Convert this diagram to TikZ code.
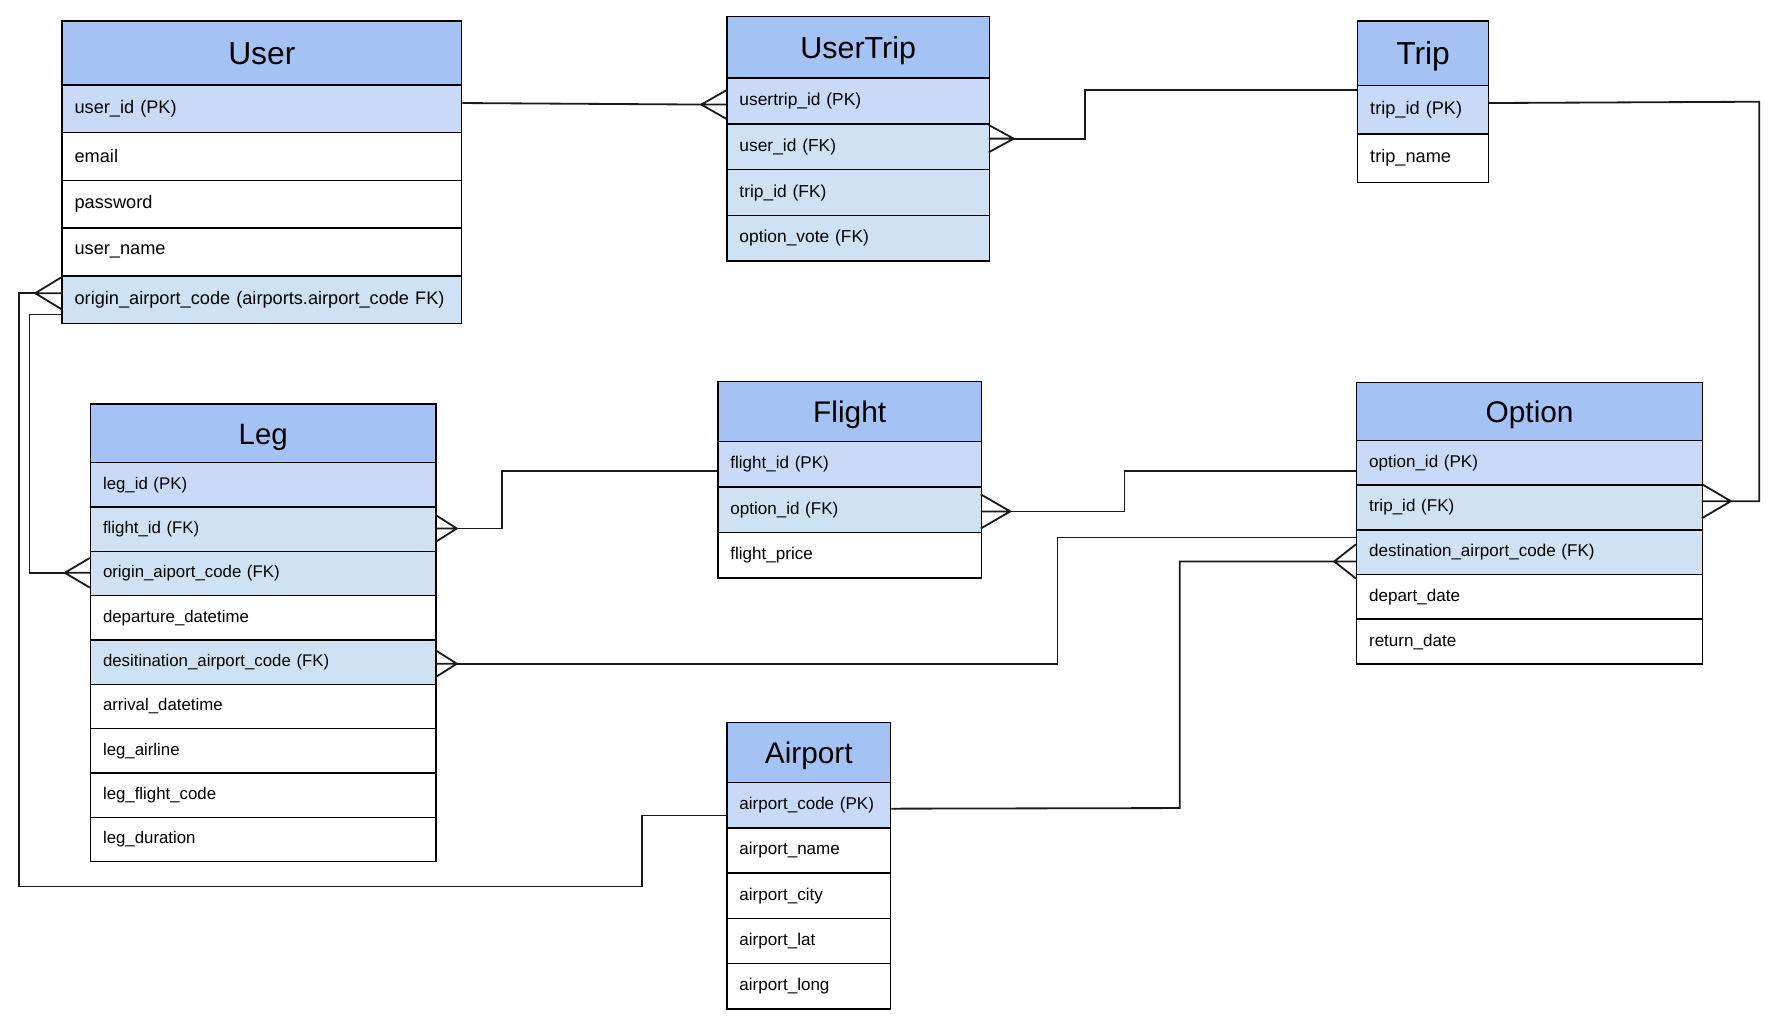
\documentclass[tikz,border=0pt]{standalone}
\usepackage{fontspec}
\setmainfont{Liberation Sans}
\definecolor{titlec}{HTML}{A4C2F4}
\definecolor{pkc}{HTML}{C9DAF8}
\definecolor{fkc}{HTML}{CFE2F3}
\definecolor{linec}{HTML}{1A1A1A}
\tikzset{
  tbl/.style={draw=black, line width=1.3pt, rectangle, inner sep=0pt, anchor=north west},
  ttl/.style={tbl, fill=titlec, align=center},
  fld/.style={tbl, align=left, inner xsep=11pt},
  conn/.style={draw=linec, line width=1.6pt},
}
% #1 name, #2 x, #3 y, #4 width, #5 title height, #6 row height, #7 title, #8 rows, #9 field font size
\newcommand\ertable[9]{%
  \pgfmathsetmacro\ertsz{#9*1.75}%
  \pgfmathsetmacro\ertch{#9*1.75*0.716}%
  \node[ttl, font=\fontsize{\ertsz}{\ertsz}\selectfont, text height=\ertch pt, text depth=0pt,
        minimum width=#4pt, text width=#4pt, minimum height=#5pt] (#1-t) at (#2,#3) {#7};
  \pgfmathsetmacro\ertw{#4-22}%
  \foreach [count=\i] \fc/\tx in {#8} {
    \node[fld, fill=\fc, font=\fontsize{#9}{#9}\selectfont, minimum width=#4pt, text width=\ertw pt, minimum height=#6pt]
      (#1-\i) at (#2,{#3+#5+(\i-1)*#6}) {\tx};
  }%
}
\newcommand\crowfoot[3]{\draw[conn] (#1) -- ++(#2,-#3) (#1) -- ++(#2,0) (#1) -- ++(#2,#3);}
\begin{document}
\begin{tikzpicture}[x=1pt,y=-1pt]
\useasboundingbox (0,0) rectangle (1568,906);

\ertable{User}{54}{18}{351.5}{56}{42}{User}{pkc/user\_id (PK), white/email, white/password, white/user\_name, fkc/origin\_airport\_code (airports.airport\_code FK)}{16}
\ertable{UserTrip}{639}{14}{231}{54}{40.3}{UserTrip}{pkc/usertrip\_id (PK), fkc/user\_id (FK), fkc/trip\_id (FK), fkc/option\_vote (FK)}{15.3}
\ertable{Trip}{1194}{17.7}{115}{57}{42.6}{Trip}{pkc/trip\_id (PK), white/trip\_name}{16}
\ertable{Leg}{79}{355}{304}{51.5}{39}{Leg}{pkc/leg\_id (PK), fkc/flight\_id (FK), fkc/origin\_aiport\_code (FK), white/departure\_datetime, fkc/desitination\_airport\_code (FK), white/arrival\_datetime, white/leg\_airline, white/leg\_flight\_code, white/leg\_duration}{14.8}
\ertable{Flight}{631}{335}{232}{53}{40}{Flight}{pkc/flight\_id (PK), fkc/option\_id (FK), white/flight\_price}{15}
\ertable{Option}{1193}{336}{304.5}{51}{39.3}{Option}{pkc/option\_id (PK), fkc/trip\_id (FK), fkc/destination\_airport\_code (FK), white/depart\_date, white/return\_date}{15}
\ertable{Airport}{639}{635}{144}{53}{39.8}{Airport}{pkc/airport\_code (PK), white/airport\_name, white/airport\_city, white/airport\_lat, white/airport\_long}{15}

% User -> UserTrip
\coordinate (a1) at (617,92);
\draw[conn] ([yshift=5pt]User-1.east) -- (a1);
\crowfoot{a1}{22}{12.5}
% Trip -> UserTrip
\coordinate (a2) at (892,122);
\draw[conn] ([yshift=-3pt]Trip-t.south west) -- ++(-239,0) |- (a2);
\crowfoot{a2}{-22}{12}
% Trip -> Option
\coordinate (a3) at (1523,441);
\draw[conn] ([yshift=6pt]Trip-1.east) -- (1548,89.5) |- (a3);
\crowfoot{a3}{-25.5}{15}
% User origin -> Airport
\coordinate (a4) at (31,258);
\crowfoot{a4}{23}{14}
\draw[conn] (a4) -- ++(-14,0) |- (565,780) |- ([yshift=-9pt]Airport-1.west);
% User -> Leg origin
\coordinate (a5) at (57,504);
\draw[conn] ([yshift=-13pt]User-5.west) -- ++(-28,0) |- (a5);
\crowfoot{a5}{22}{13}
% Leg flight -> Flight
\coordinate (a6) at (402,465);
\crowfoot{a6}{-19}{12}
\draw[conn] (a6) -- ++(39.5,0) |- ([yshift=-6pt]Flight-1.west);
% Flight option -> Option
\coordinate (a7) at (889,450);
\crowfoot{a7}{-26}{15}
\draw[conn] (a7) -- ++(100.5,0) |- ([yshift=-7.4pt]Option-1.west);
% Leg destination -> Option
\coordinate (a8) at (402,584);
\crowfoot{a8}{-19}{12}
\draw[conn] (a8) -- (930.5,584) |- ([yshift=-6pt]Option-2.south west);
% Airport -> Option destination
\coordinate (a9) at (1174,494);
\draw[conn] ([yshift=-3pt]Airport-1.east) -- (1038,711) |- (a9);
\crowfoot{a9}{19}{15}
\end{tikzpicture}
\end{document}
